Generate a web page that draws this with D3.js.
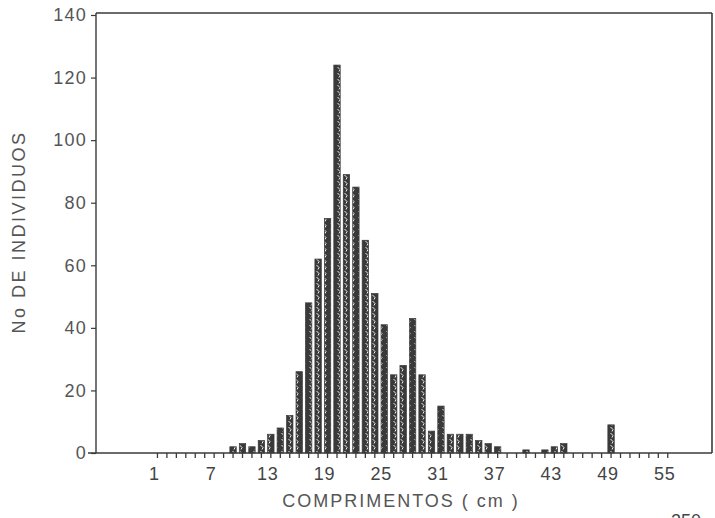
<!DOCTYPE html>
<html><head><meta charset="utf-8">
<script src="https://cdn.jsdelivr.net/npm/d3@7"></script>
<style>
html,body{margin:0;padding:0;background:#fff;}
svg{display:block;font-family:"Liberation Sans",Arial,sans-serif;}
</style></head>
<body>
<svg id="chart" width="715" height="518"></svg>
<script>
// Length classes (cm) and number of individuals per class
const classes = [9,10,11,12,13,14,15,16,17,18,19,20,21,22,23,24,25,26,27,28,29,30,31,32,33,34,35,36,37,40,42,43,44,49];
const counts  = [2,3,2,4,6,8,12,26,48,62,75,124,89,85,68,51,41,25,28,43,25,7,15,6,6,6,4,3,2,1,1,2,3,9];
const xTickLabels = [1,7,13,19,25,31,37,43,49,55];
const yTickValues = [0,20,40,60,80,100,120,140];

(function(){
const svg = d3.select("#chart");
const pLeft = 96, pRight = 712, pTop = 13, pBottom = 453;
const ink = "#3a3a3a";

const x = d3.scaleLinear().domain([0, 50]).range([148, 148 + 9.45*50]);
const y = d3.scaleLinear().domain([0, 140]).range([pBottom, pTop + 2]);

// hatch pattern for bars
const defs = svg.append("defs");
const pat = defs.append("pattern").attr("id","hatch").attr("patternUnits","userSpaceOnUse")
  .attr("width",7).attr("height",6);
pat.append("rect").attr("width",7).attr("height",6).attr("fill","#3a3a3a");
pat.append("path").attr("d","M1.5,1 L4,3.5 M4,3.5 L3,5.5").attr("stroke","#eeeeee").attr("stroke-width",1).attr("fill","none");

// bars
const bw = 6.4;
svg.append("g").selectAll("rect").data(classes).join("rect")
  .attr("x", (d) => x(d) - bw/2)
  .attr("y", (d,i) => y(counts[i]))
  .attr("width", bw)
  .attr("height", (d,i) => pBottom - y(counts[i]))
  .attr("fill", "url(#hatch)")
  .attr("stroke", "#3a3a3a").attr("stroke-width", 0.7);

// frame: top and right
svg.append("line").attr("x1",pLeft).attr("x2",pRight).attr("y1",pTop).attr("y2",pTop)
  .attr("stroke",ink).attr("stroke-width",1.6);
svg.append("line").attr("x1",pRight).attr("x2",pRight).attr("y1",pTop).attr("y2",pBottom)
  .attr("stroke",ink).attr("stroke-width",1.6);

// y axis
const yAxis = d3.axisLeft(y).tickValues(yTickValues).tickSize(5).tickPadding(4);
const gy = svg.append("g").attr("transform",`translate(${pLeft},0)`).call(yAxis);
gy.select(".domain").attr("stroke",ink).attr("stroke-width",1.4).attr("d",`M0,${pTop}V${pBottom}`);
gy.selectAll(".tick line").attr("stroke",ink).attr("stroke-width",1.2);
gy.selectAll(".tick text").attr("font-size",18).attr("fill","#555").attr("letter-spacing",1.2)
  .attr("font-family","Liberation Sans, Arial, sans-serif");

// x axis line
svg.append("line").attr("x1",pLeft-8).attr("x2",pRight).attr("y1",pBottom).attr("y2",pBottom)
  .attr("stroke",ink).attr("stroke-width",1.6);

// x minor ticks at every class 1..55
const xTicks = d3.range(1,56);
svg.append("g").selectAll("line").data(xTicks).join("line")
  .attr("x1",d=>x(d)).attr("x2",d=>x(d)).attr("y1",pBottom).attr("y2",pBottom+5)
  .attr("stroke",ink).attr("stroke-width",1.3);

// x tick labels
svg.append("g").selectAll("text").data(xTickLabels).join("text")
  .attr("x",d=>x(d)-3).attr("y",480)
  .attr("text-anchor","middle").attr("font-size",18).attr("fill","#444").attr("letter-spacing",0.8)
  .text(d=>d);

// axis titles
svg.append("text").attr("x",401).attr("y",507).attr("text-anchor","middle")
  .attr("font-size",18).attr("letter-spacing",2).attr("fill","#555").text("COMPRIMENTOS ( cm )");
svg.append("text").attr("transform","translate(25,232) rotate(-90)")
  .attr("text-anchor","middle").attr("font-size",18).attr("letter-spacing",2.5).attr("fill","#555")
  .text("No DE INDIVIDUOS");

// page number (partially cut off in scan, as in the reference)
svg.append("text").attr("x",686).attr("y",527).attr("text-anchor","middle")
  .attr("font-size",18).attr("fill","#444").text("250");
})();
</script>
</body></html>
